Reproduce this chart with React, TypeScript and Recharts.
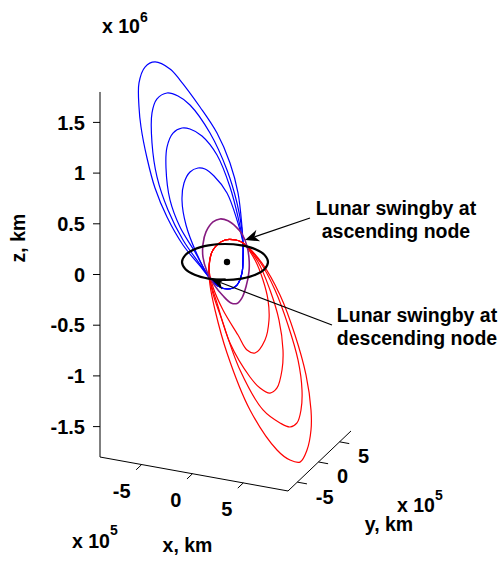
import React from 'react';
import { LineChart, Line, XAxis, YAxis, ReferenceLine, ReferenceDot } from 'recharts';

type Pt = [number, number];

// Projected positions:
// h = horizontal screen position, v = height on the z scale (x 10^6 km)
const blueOrbit1: Pt[] = [
  [243, 0.311], [242, 0.468], [238, 0.804], [230, 1.1], [217, 1.395], [200, 1.652], [180, 1.918],
  [170, 2.027], [155, 2.096], [145, 2.046], [139, 1.889], [139, 1.652], [141, 1.455], [147, 1.149],
  [155, 0.853], [167, 0.567], [183, 0.291], [200, 0.084], [209, -0.025], [218, -0.113], [228, -0.143],
  [237, -0.104], [242, 0.015], [243, 0.163],
];
const blueOrbit2: Pt[] = [
  [243, 0.311], [242, 0.439], [237, 0.705], [227, 1.03], [210, 1.395], [190, 1.672], [178, 1.76],
  [167, 1.79], [157, 1.731], [152, 1.593], [152, 1.297], [157, 0.962], [168, 0.636], [183, 0.34],
  [199, 0.113], [209, -0.025], [218, -0.113], [228, -0.143], [237, -0.104], [242, 0.015], [243, 0.163],
];
const blueOrbit3: Pt[] = [
  [243, 0.311], [238, 0.567], [230, 0.863], [217, 1.178], [202, 1.366], [190, 1.435], [182, 1.445],
  [173, 1.395], [167, 1.257], [166, 1.05], [170, 0.735], [180, 0.468], [195, 0.222], [209, -0.025],
  [218, -0.113], [228, -0.143], [237, -0.104], [242, 0.015], [243, 0.163],
];
const blueOrbit4: Pt[] = [
  [243, 0.311], [237, 0.537], [227, 0.804], [214, 0.971], [205, 1.04], [198, 1.05], [190, 1.011],
  [184, 0.902], [182, 0.735], [186, 0.488], [196, 0.222], [209, -0.025], [218, -0.113], [228, -0.143],
  [237, -0.104], [242, 0.015], [243, 0.163],
];
const redOrbit1: Pt[] = [
  [213, 0.242], [225, 0.34], [236, 0.34], [243, 0.311], [255, 0.143], [263, -0.054], [268, -0.251],
  [269, -0.449], [265, -0.646], [255, -0.774], [247, -0.745], [238, -0.597], [223, -0.35],
  [213, -0.123], [209, 0.064],
];
const redOrbit2: Pt[] = [
  [213, 0.242], [225, 0.34], [236, 0.34], [243, 0.311], [258, 0.123], [270, -0.153], [279, -0.449],
  [283, -0.745], [282, -0.942], [277, -1.119], [270, -1.169], [260, -1.119], [250, -1.011],
  [230, -0.676], [217, -0.281], [210, -0.054], [209, 0.084],
];
const redOrbit3: Pt[] = [
  [213, 0.242], [225, 0.34], [236, 0.34], [243, 0.311], [260, 0.123], [275, -0.153], [288, -0.498],
  [298, -0.843], [302, -1.139], [301, -1.336], [297, -1.464], [290, -1.504], [280, -1.464],
  [263, -1.336], [240, -0.942], [222, -0.449], [212, -0.153], [209, 0.064],
];
const redOrbit4: Pt[] = [
  [213, 0.242], [225, 0.34], [236, 0.34], [243, 0.311], [262, 0.113], [280, -0.202], [295, -0.597],
  [306, -0.991], [311, -1.336], [311, -1.534], [307, -1.731], [300, -1.85], [290, -1.83],
  [277, -1.731], [250, -1.336], [227, -0.774], [215, -0.35], [210, -0.104], [209, 0.064],
];
const purpleOrbit: Pt[] = [
  [213, 0.518], [220, 0.548], [228, 0.53], [236, 0.47], [242, 0.4], [247, 0.28], [249, 0.16],
  [249, 0.03], [246, -0.12], [242, -0.23], [237, -0.285], [231, -0.28], [223, -0.21], [214, -0.1],
  [207, 0.03], [203, 0.17], [203, 0.3], [206, 0.42],
];
const moonOrbit: Pt[] = [
  [268, 0.123], [264.7, 0.055], [255.4, -0.002], [241.5, -0.04], [225, -0.054], [208.5, -0.04],
  [194.6, -0.002], [185.3, 0.055], [182, 0.123], [185.3, 0.191], [194.6, 0.249], [208.5, 0.287],
  [225, 0.301], [241.5, 0.287], [255.4, 0.249], [264.7, 0.191],
];
const earth: Pt = [227, 0.123];

const zTicks = [-1.5, -1, -0.5, 0, 0.5, 1, 1.5];
const xTicks = [-5, 0, 5];
const yTicks = [-5, 0, 5];
const xLim = [-9.1, 9.4]; // x 10^5 km
const yLim = [-7.2, 7.7]; // x 10^5 km
const zLim = [-1.8, 1.8]; // x 10^6 km

const noteAscending = ['Lunar swingby at', 'ascending node'];
const noteDescending = ['Lunar swingby at', 'descending node'];
const arrowAscending: Pt[] = [[310, 0.557], [245, 0.34]];
const arrowDescending: Pt[] = [[332, -0.498], [211, -0.044]];

// view of the floor (z = zmin): where the x and y ranges run on screen
const floorCorner = { h: 100, v: zLim[0] };
const xEdge = { h: 188, v: -0.335 };
const yEdge = { h: 63, v: 0.592 };
const proj = (x: number, y: number) => {
  const tx = (x - xLim[0]) / (xLim[1] - xLim[0]);
  const ty = (y - yLim[0]) / (yLim[1] - yLim[0]);
  return { h: floorCorner.h + tx * xEdge.h + ty * yEdge.h, v: floorCorner.v + tx * xEdge.v + ty * yEdge.v };
};

const rows = (pts: Pt[]) => pts.map(([h, v]) => ({ h, v }));

// closed centripetal Catmull-Rom curve so the orbits come back round smoothly
const closedSpline = (context: any) => {
  let pts: number[][] = [];
  return {
    areaStart() {},
    areaEnd() {},
    lineStart() { pts = []; },
    point(x: number, y: number) { pts.push([+x, +y]); },
    lineEnd() {
      const n = pts.length;
      if (!n) return;
      const d = (a: number[], b: number[]) => Math.hypot(b[0] - a[0], b[1] - a[1]);
      context.moveTo(pts[0][0], pts[0][1]);
      for (let i = 0; i < n; i++) {
        const p0 = pts[(i + n - 1) % n], p1 = pts[i], p2 = pts[(i + 1) % n], p3 = pts[(i + 2) % n];
        const l01 = d(p0, p1), l12 = d(p1, p2), l23 = d(p2, p3);
        const l01a = Math.sqrt(l01), l12a = Math.sqrt(l12), l23a = Math.sqrt(l23);
        let c1 = [p1[0], p1[1]];
        let c2 = [p2[0], p2[1]];
        if (l01a > 1e-6) {
          const a = 2 * l01 + 3 * l01a * l12a + l12;
          const m = 3 * l01a * (l01a + l12a);
          c1 = [0, 1].map((k) => (p1[k] * a - p0[k] * l12 + p2[k] * l01) / m);
        }
        if (l23a > 1e-6) {
          const b = 2 * l23 + 3 * l23a * l12a + l12;
          const m = 3 * l23a * (l23a + l12a);
          c2 = [0, 1].map((k) => (p2[k] * b + p1[k] * l23 - p3[k] * l12) / m);
        }
        context.bezierCurveTo(c1[0], c1[1], c2[0], c2[1], p2[0], p2[1]);
      }
      context.closePath();
    },
  };
};

const orbits = [
  { key: 'b1', pts: blueOrbit1, color: '#0000ff', width: 1.2 },
  { key: 'b2', pts: blueOrbit2, color: '#0000ff', width: 1.2 },
  { key: 'b3', pts: blueOrbit3, color: '#0000ff', width: 1.2 },
  { key: 'b4', pts: blueOrbit4, color: '#0000ff', width: 1.2 },
  { key: 'r1', pts: redOrbit1, color: '#ff0000', width: 1.2 },
  { key: 'r2', pts: redOrbit2, color: '#ff0000', width: 1.2 },
  { key: 'r3', pts: redOrbit3, color: '#ff0000', width: 1.2 },
  { key: 'r4', pts: redOrbit4, color: '#ff0000', width: 1.2 },
  { key: 'p', pts: purpleOrbit, color: '#861b80', width: 1.6 },
  { key: 'm', pts: moonOrbit, color: '#000000', width: 2.2 },
];

const font = { fontFamily: "'Liberation Sans', Arial, Helvetica, sans-serif", fontWeight: 700 };

const textAt = (key: string, h: number, v: number, render: (cx: number, cy: number) => React.ReactElement) => (
  <ReferenceDot key={key} x={h} y={v} r={0} ifOverflow="visible" shape={(p: any) => render(p.cx, p.cy)} />
);

const segment = (key: string, a: { h: number; v: number }, b: { h: number; v: number }, width = 1) => (
  <ReferenceLine
    key={key}
    segment={[{ x: a.h, y: a.v }, { x: b.h, y: b.v }]}
    ifOverflow="visible"
    stroke="#000"
    strokeWidth={width}
  />
);

const ArrowShape = (p: any) => {
  const { x1, y1, x2, y2 } = p;
  const dx = x1 - x2, dy = y1 - y2;
  const len = Math.hypot(dx, dy) || 1;
  const ux = dx / len, uy = dy / len;
  const nx = -uy, ny = ux;
  const head = 14, half = 6, notch = 10;
  const bx = x2 + ux * head, by = y2 + uy * head;
  const mx = x2 + ux * notch, my = y2 + uy * notch;
  return (
    <g>
      <line x1={x1} y1={y1} x2={mx} y2={my} stroke="#000" strokeWidth={1.2} />
      <polygon
        points={`${x2},${y2} ${bx + nx * half},${by + ny * half} ${mx},${my} ${bx - nx * half},${by - ny * half}`}
        fill="#000"
      />
    </g>
  );
};

const multiLine = (lines: string[]) => (cx: number, cy: number) => (
  <text x={cx} y={cy} textAnchor="middle" fontSize={19.5} fill="#000" {...font}>
    {lines.map((l, i) => (
      <tspan key={i} x={cx} dy={i === 0 ? 0 : 23.5}>{l}</tspan>
    ))}
  </text>
);

const exponent = (power: string, supShift: number) => (cx: number, cy: number) => (
  <text x={cx} y={cy} fontSize={19.5} fill="#000" {...font}>
    x 10<tspan dy={supShift} fontSize={14}>{power}</tspan>
  </text>
);

export default function App() {
  const floorStart = proj(xLim[0], yLim[0]);
  const floorMid = proj(xLim[1], yLim[0]);
  const floorEnd = proj(xLim[1], yLim[1]);

  return (
    <div style={{ position: 'absolute', left: 0, top: 0, background: '#fff' }}>
      <LineChart width={499} height={561} margin={{ top: 10.86, right: 9, bottom: 22.86, left: 40 }}>
        <XAxis type="number" dataKey="h" domain={[100, 490]} allowDataOverflow hide />
        <YAxis
          type="number"
          width={60}
          domain={[-2.6, 2.6]}
          allowDataOverflow
          ticks={zTicks}
          interval={0}
          axisLine={false}
          tickLine={{ stroke: '#000', strokeWidth: 1 }}
          tickSize={7}
          tickMargin={8}
          tickFormatter={(t: number) => String(t)}
          tick={{ fill: '#000', fontSize: 20, ...font }}
        />

        {/* axes of the 3-D box */}
        {segment('zaxis', { h: floorCorner.h, v: zLim[0] }, { h: floorCorner.h, v: zLim[1] })}
        {segment('xaxis', floorStart, floorMid)}
        {segment('yaxis', floorMid, floorEnd)}
        {xTicks.map((t) => segment(`xt${t}`, proj(t, yLim[0]), proj(t, yLim[0] - 1.3)))}
        {yTicks.map((t) => segment(`yt${t}`, proj(xLim[1], t), proj(xLim[1] + 0.95, t)))}
        {xTicks.map((t) => {
          const p = proj(t, yLim[0]);
          return textAt(`xl${t}`, p.h, p.v, (cx, cy) => (
            <text x={cx - 11} y={cy + 33.5} textAnchor="end" fontSize={20} fill="#000" {...font}>{String(t)}</text>
          ));
        })}
        {yTicks.map((t) => {
          const p = proj(xLim[1], t);
          return textAt(`yl${t}`, p.h, p.v, (cx, cy) => (
            <text x={cx + 18.5} y={cy + 21.5} textAnchor="start" fontSize={20} fill="#000" {...font}>{String(t)}</text>
          ));
        })}

        {orbits.map((o) => (
          <Line
            key={o.key}
            data={rows(o.pts)}
            dataKey="v"
            type={closedSpline as any}
            stroke={o.color}
            strokeWidth={o.width}
            dot={false}
            activeDot={false}
            isAnimationActive={false}
          />
        ))}

        <ReferenceDot x={earth[0]} y={earth[1]} r={3.2} fill="#000" stroke="none" ifOverflow="visible" />

        <ReferenceLine
          segment={[{ x: arrowAscending[0][0], y: arrowAscending[0][1] }, { x: arrowAscending[1][0], y: arrowAscending[1][1] }]}
          ifOverflow="visible"
          shape={ArrowShape}
        />
        <ReferenceLine
          segment={[{ x: arrowDescending[0][0], y: arrowDescending[0][1] }, { x: arrowDescending[1][0], y: arrowDescending[1][1] }]}
          ifOverflow="visible"
          shape={ArrowShape}
        />

        {textAt('n1', 396, 0.587, multiLine(noteAscending))}
        {textAt('n2', 417, -0.468, multiLine(noteDescending))}
        {textAt('e6', 102, 2.382, exponent('6', -11))}
        {textAt('e5x', 72, -2.697, exponent('5', -13))}
        {textAt('e5y', 397, -2.342, exponent('5', -12))}
        {textAt('xt', 187.5, -2.737, (cx, cy) => (
          <text x={cx} y={cy} textAnchor="middle" fontSize={19.5} fill="#000" {...font}>x, km</text>
        ))}
        {textAt('yt', 389, -2.53, (cx, cy) => (
          <text x={cx} y={cy} textAnchor="middle" fontSize={19.5} fill="#000" {...font}>y, km</text>
        ))}
        {textAt('zt', 18, 0.36, (cx, cy) => (
          <text
            x={cx}
            y={cy}
            textAnchor="middle"
            dominantBaseline="central"
            transform={`rotate(-90 ${cx} ${cy})`}
            fontSize={19.5}
            fill="#000"
            {...font}
          >
            z, km
          </text>
        ))}
      </LineChart>
    </div>
  );
}
